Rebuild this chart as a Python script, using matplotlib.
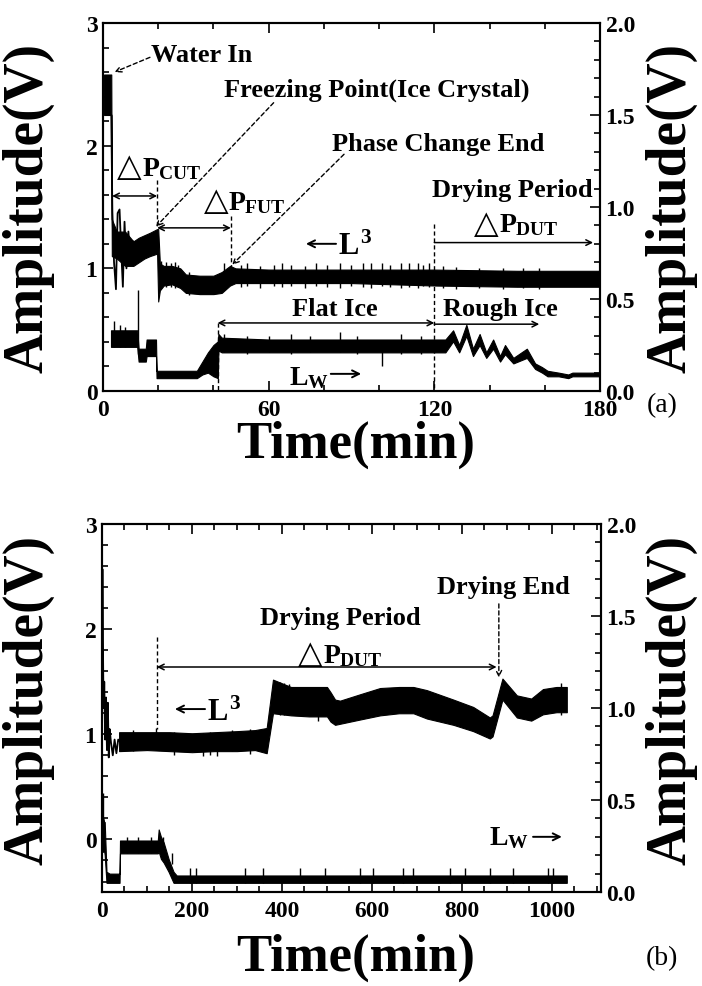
import matplotlib.pyplot as plt
from matplotlib.ticker import MultipleLocator, FormatStrFormatter

plt.rcParams['font.family'] = ['Liberation Serif', 'DejaVu Serif', 'DejaVu Sans']
plt.rcParams['font.weight'] = 'bold'
plt.rcParams['mathtext.fontset'] = 'custom'
plt.rcParams['mathtext.rm'] = 'Liberation Serif:bold'
plt.rcParams['mathtext.it'] = 'Liberation Serif:bold'
plt.rcParams['mathtext.bf'] = 'Liberation Serif:bold'

# ---- panel (a): L3 trace, left axis (V) ----
a_l3_t = [0.4, 3.0, 3.2, 5.0, 8.0, 11.0, 13.0, 15.0, 17.0, 19.6, 20.0, 20.6, 22.0, 25.0, 28.0, 30.0, 35.0, 40.0, 43.0, 46.0,
          48.0, 60.0, 90.0, 120.0, 150.0, 180.0]
a_l3_lo = [2.25, 2.25, 1.10, 1.08, 1.02, 1.02, 1.05, 1.08, 1.10, 1.12, 0.73, 0.82, 0.86, 0.87, 0.84, 0.80, 0.79, 0.79, 0.80, 0.86,
           0.88, 0.88, 0.88, 0.86, 0.85, 0.85]
a_l3_hi = [2.58, 2.58, 1.40, 1.30, 1.30, 1.22, 1.25, 1.27, 1.29, 1.32, 1.32, 1.04, 1.02, 1.02, 1.00, 0.95, 0.94, 0.94, 0.97, 1.02,
           1.00, 0.99, 0.99, 0.99, 0.98, 0.98]
a_l3_osc_t = [3.0, 3.4, 4.0, 4.7, 5.3, 6.0, 6.6, 7.2, 7.8, 8.5, 9.2, 10.0, 10.8]
a_l3_osc_v = [2.25, 1.46, 1.05, 0.83, 1.45, 1.48, 1.15, 0.85, 1.38, 1.00, 1.30, 1.05, 1.22]
a_l3_spk_t = [21, 23, 24.5, 26, 27, 31, 44, 50, 52, 57, 62, 65, 68, 73, 77, 81, 86, 90, 94, 97, 101, 104, 108, 111, 114,
              116, 118, 123, 128, 136, 145, 152, 158]
a_l3_spk_lo = [0.84, 0.85, 0.85, 0.84, 0.85, 0.78, 0.84, 0.85, 0.86, 0.84, 0.86, 0.85, 0.86, 0.84, 0.86, 0.85, 0.84, 0.86, 0.85,
               0.84, 0.86, 0.85, 0.84, 0.85, 0.84, 0.86, 0.85, 0.84, 0.83, 0.84, 0.83, 0.84, 0.83]
a_l3_spk_hi = [1.06, 1.05, 1.04, 1.05, 1.03, 0.97, 1.04, 1.03, 1.04, 1.02, 1.03, 1.04, 1.03, 1.02, 1.04, 1.03, 1.04, 1.03, 1.04,
               1.04, 1.04, 1.03, 1.04, 1.04, 1.04, 1.03, 1.04, 1.02, 1.01, 1.00, 1.00, 1.00, 1.00]

# ---- panel (a): Lw trace, right axis (V) ----
a_lw_t = [2.9, 12.4, 12.9, 15.5, 15.8, 19.2, 19.4, 25.0, 30.0, 34.0, 36.0, 38.0, 40.0, 41.6, 41.8, 43.0, 60.0, 90.0, 110.0,
          122.0, 124.0, 126.8, 129.0, 131.6, 134.0, 136.4, 138.8, 141.3, 143.8, 145.6, 148.6, 153.5, 156.5, 159.0, 161.0,
          165.0, 168.5, 170.0, 180.0]
a_lw_lo = [0.24, 0.24, 0.16, 0.16, 0.19, 0.19, 0.07, 0.07, 0.07, 0.07, 0.09, 0.10, 0.08, 0.07, 0.22, 0.21, 0.21, 0.21, 0.21,
           0.21, 0.21, 0.27, 0.21, 0.30, 0.19, 0.25, 0.18, 0.23, 0.16, 0.20, 0.15, 0.18, 0.12, 0.10, 0.08,
           0.08, 0.07, 0.08, 0.08]
a_lw_hi = [0.33, 0.33, 0.23, 0.23, 0.28, 0.28, 0.11, 0.11, 0.11, 0.11, 0.16, 0.21, 0.25, 0.27, 0.31, 0.29, 0.28, 0.28, 0.28,
           0.28, 0.28, 0.33, 0.25, 0.36, 0.23, 0.31, 0.21, 0.28, 0.19, 0.25, 0.18, 0.23, 0.15, 0.13, 0.11,
           0.10, 0.09, 0.10, 0.10]
a_lw_spk_t = [4, 6, 8, 12.7, 44, 52, 60, 68, 75, 86, 92, 101, 108, 115]
a_lw_spk_lo = [0.24, 0.24, 0.24, 0.20, 0.21, 0.20, 0.21, 0.20, 0.21, 0.21, 0.20, 0.135, 0.20, 0.20]
a_lw_spk_hi = [0.38, 0.36, 0.35, 0.55, 0.31, 0.30, 0.30, 0.31, 0.30, 0.32, 0.30, 0.28, 0.31, 0.30]

# ---- panel (b): L3 trace, left axis (V) ----
b_l3_osc_t = [0, 1, 2, 3, 4, 5, 7, 9, 11, 13, 15, 17, 20, 24, 28, 32, 36, 40]
b_l3_osc_v = [1.30, 2.57, 1.90, 1.45, 1.25, 1.50, 0.95, 1.35, 0.85, 1.30, 0.78, 1.05, 0.92, 0.80, 0.95, 0.82, 0.95, 0.93]
b_l3_t = [38, 100, 150, 200, 250, 300, 340, 366, 380, 420, 460, 500, 508, 518, 529, 573, 618, 660, 692, 722,
          781, 825, 862, 868, 890, 922, 954, 980, 1010, 1033]
b_l3_lo = [0.84, 0.85, 0.84, 0.83, 0.84, 0.84, 0.85, 0.82, 1.20, 1.18, 1.17, 1.17, 1.12, 1.09, 1.10, 1.14, 1.18, 1.20, 1.20, 1.15,
           1.09, 1.03, 0.96, 0.98, 1.33, 1.16, 1.13, 1.19, 1.21, 1.21]
b_l3_hi = [1.02, 1.02, 1.02, 1.01, 1.02, 1.03, 1.04, 1.06, 1.52, 1.45, 1.45, 1.45, 1.40, 1.33, 1.32, 1.38, 1.44, 1.45, 1.45, 1.42,
           1.33, 1.26, 1.16, 1.18, 1.53, 1.37, 1.34, 1.43, 1.45, 1.45]
b_l3_spk_t = [70, 120, 160, 225, 240, 255, 290, 330, 395, 405, 415, 480, 1020]
b_l3_spk_lo = [0.84, 0.85, 0.80, 0.79, 0.80, 0.79, 0.84, 0.81, 1.18, 1.18, 1.18, 1.13, 1.18]
b_l3_spk_hi = [1.04, 1.06, 1.02, 1.01, 1.02, 1.01, 1.04, 1.05, 1.50, 1.49, 1.48, 1.45, 1.49]

# ---- panel (b): Lw trace, right axis (V) ----
b_lw_t = [0, 3, 5, 6, 10, 17, 26, 39, 40, 60, 100, 124, 126, 131, 137, 148, 159, 166, 300, 600, 900, 1033]
b_lw_lo = [0.22, 0.22, 0.22, 0.20, 0.05, 0.05, 0.05, 0.05, 0.21, 0.21, 0.21, 0.21, 0.22, 0.18, 0.16, 0.11, 0.05, 0.05,
           0.05, 0.05, 0.05, 0.05]
b_lw_hi = [0.38, 0.40, 0.38, 0.38, 0.11, 0.10, 0.10, 0.10, 0.28, 0.28, 0.28, 0.28, 0.34, 0.30, 0.27, 0.18, 0.11, 0.09,
           0.09, 0.09, 0.09, 0.09]
b_lw_spk_t = [3, 55, 80, 110, 135, 155, 196, 210, 318, 358, 440, 496, 573, 603, 669, 692, 773, 807, 862, 914, 992, 1003]
b_lw_spk_lo = [0.22, 0.21, 0.21, 0.21, 0.21, 0.15, 0.05, 0.05, 0.05, 0.05, 0.05, 0.05, 0.05, 0.05, 0.05, 0.05, 0.05, 0.05,
               0.05, 0.05, 0.05, 0.05]
b_lw_spk_hi = [0.54, 0.30, 0.30, 0.30, 0.30, 0.21, 0.13, 0.13, 0.13, 0.13, 0.13, 0.13, 0.13, 0.13, 0.13, 0.13, 0.13, 0.13,
               0.13, 0.13, 0.13, 0.13]

fig = plt.figure(figsize=(7.02, 9.87), dpi=100)
ax_a = fig.add_axes([0.1467, 0.6028, 0.708, 0.3729])
ax_b = fig.add_axes([0.1453, 0.0952, 0.7108, 0.3729])


def style(ax, ax2, xmax, xmaj, xmin, ylo):
    ax.set_xlim(0, xmax)
    ax.set_ylim(ylo, 3)
    ax2.set_ylim(0, 2)
    ax.xaxis.set_major_locator(MultipleLocator(xmaj))
    ax.xaxis.set_minor_locator(MultipleLocator(xmin))
    ax.yaxis.set_major_locator(MultipleLocator(1))
    ax.yaxis.set_minor_locator(MultipleLocator(0.2))
    ax2.yaxis.set_major_locator(MultipleLocator(0.5))
    ax2.yaxis.set_minor_locator(MultipleLocator(0.1))
    ax2.yaxis.set_major_formatter(FormatStrFormatter('%.1f'))
    ax.tick_params(which='both', direction='in', top=True, right=False, labelsize=17, width=1.2, pad=4)
    ax.tick_params(axis='x', pad=6)
    ax.tick_params(which='major', length=7)
    ax.tick_params(which='minor', length=4)
    ax2.tick_params(which='both', direction='in', right=True, left=False, labelsize=17, width=1.2, pad=4)
    ax2.tick_params(which='major', length=7)
    ax2.tick_params(which='minor', length=4)
    for sp in ax.spines.values():
        sp.set_linewidth(1.5)
    for sp in ax2.spines.values():
        sp.set_linewidth(1.5)


def dash_v(ax, x, y0, y1):
    ax.plot([x, x], [y0, y1], color='k', lw=1, ls=(0, (3, 2)))


def harrow(ax, x0, x1, y, style_='<->'):
    ax.annotate('', xy=(x1, y), xytext=(x0, y),
                arrowprops=dict(arrowstyle=style_, color='k', lw=1.1, shrinkA=0, shrinkB=0))


def text_arrow(ax, x0, x1, y):
    # thin typographic-style arrow pointing from x0 to x1
    ax.annotate('', xy=(x1, y), xytext=(x0, y),
                arrowprops=dict(arrowstyle='->,head_length=0.5,head_width=0.25', color='k', lw=1.4,
                                shrinkA=0, shrinkB=0))


def dash_arrow(ax, xt, yt, xh, yh):
    ax.annotate('', xy=(xh, yh), xytext=(xt, yt),
                arrowprops=dict(arrowstyle='->', color='k', lw=1, ls=(0, (3, 2)), shrinkA=0, shrinkB=0))


def delta_label(ax, x, y, sub):
    # open triangle from DejaVu, then P with subscript right after it
    ax.text(x, y, '△', family='DejaVu Sans', fontweight='normal', fontsize=23, ha='left', va='baseline')
    ax.annotate('$P_{%s}$' % sub, xy=(x, y), xytext=(18, 0), textcoords='offset points',
                fontsize=20, ha='left', va='baseline')


# ----- panel (a) -----
ax2_a = ax_a.twinx()
style(ax_a, ax2_a, 180, 60, 20, 0)
ax_a.fill_between(a_l3_t, a_l3_lo, a_l3_hi, color='k', lw=0.8)
ax_a.plot(a_l3_osc_t, a_l3_osc_v, color='k', lw=1.3)
ax_a.vlines(a_l3_spk_t, a_l3_spk_lo, a_l3_spk_hi, color='k', lw=1)
ax2_a.fill_between(a_lw_t, a_lw_lo, a_lw_hi, color='k', lw=0.8)
ax2_a.vlines(a_lw_spk_t, a_lw_spk_lo, a_lw_spk_hi, color='k', lw=1)

fs = 19
ax_a.text(17.5, 2.74, 'Water In', fontsize=fs, ha='left', va='center')
dash_arrow(ax_a, 17, 2.72, 4.2, 2.60)
ax_a.text(44, 2.46, 'Freezing Point(Ice Crystal)', fontsize=fs, ha='left', va='center')
dash_arrow(ax_a, 61.8, 2.35, 19.2, 1.34)
ax_a.text(83, 2.02, 'Phase Change End', fontsize=fs, ha='left', va='center')
dash_arrow(ax_a, 87.3, 1.93, 46.8, 1.03)
delta_label(ax_a, 5.1, 1.76, 'CUT')
harrow(ax_a, 3.3, 19.6, 1.59)
dash_v(ax_a, 19.6, 1.72, 1.34)
delta_label(ax_a, 36.4, 1.48, 'FUT')
harrow(ax_a, 19.6, 46.3, 1.33)
dash_v(ax_a, 46.3, 1.43, 0.98)
ax_a.text(148.4, 1.64, 'Drying Period', fontsize=fs, ha='center', va='center')
delta_label(ax_a, 134.5, 1.30, 'DUT')
harrow(ax_a, 120, 177.5, 1.21, '->')
dash_v(ax_a, 120, 1.36, 0)
text_arrow(ax_a, 84.4, 73.5, 1.20)
ax_a.text(85.1, 1.12, '$L^{3}$', fontsize=fs + 3, ha='left', va='baseline')
ax_a.text(84, 0.67, 'Flat Ice', fontsize=fs, ha='center', va='center')
harrow(ax_a, 41.5, 120, 0.555)
dash_v(ax_a, 41.5, 0.555, 0)
ax_a.text(144, 0.67, 'Rough Ice', fontsize=fs, ha='center', va='center')
harrow(ax_a, 120, 158, 0.545, '->')
ax_a.text(67.3, 0.06, '$L_{W}$', fontsize=fs + 1, ha='left', va='baseline')
text_arrow(ax_a, 82.5, 93.5, 0.14)

# ----- panel (b) -----
ax2_b = ax_b.twinx()
style(ax_b, ax2_b, 1109, 200, 50, -0.5)
ax_b.fill_between(b_l3_t, b_l3_lo, b_l3_hi, color='k', lw=0.8)
ax_b.plot(b_l3_osc_t, b_l3_osc_v, color='k', lw=1.3)
ax_b.vlines(b_l3_spk_t, b_l3_spk_lo, b_l3_spk_hi, color='k', lw=1)
ax2_b.fill_between(b_lw_t, b_lw_lo, b_lw_hi, color='k', lw=0.8)
ax2_b.vlines(b_lw_spk_t, b_lw_spk_lo, b_lw_spk_hi, color='k', lw=1)

ax_b.text(529, 2.11, 'Drying Period', fontsize=fs, ha='center', va='center')
delta_label(ax_b, 435.6, 1.69, 'DUT')
harrow(ax_b, 122, 877, 1.64)
dash_v(ax_b, 122, 1.93, 1.05)
ax_b.text(892, 2.41, 'Drying End', fontsize=fs, ha='center', va='center')
dash_arrow(ax_b, 882, 2.24, 882, 1.54)
text_arrow(ax_b, 229, 162, 1.24)
ax_b.text(233, 1.14, '$L^{3}$', fontsize=fs + 3, ha='left', va='baseline')
ax2_b.text(860, 0.26, '$L_{W}$', fontsize=fs + 1, ha='left', va='baseline')
text_arrow(ax2_b, 958, 1022, 0.30)

# axis titles
for yc in (0.789, 0.291):
    fig.text(0.040, yc, 'Amplitude(V)', fontsize=40, rotation=90, ha='center', va='center')
    fig.text(0.957, yc, 'Amplitude(V)', fontsize=40, rotation=90, ha='center', va='center')
fig.text(0.506, 0.549, 'Time(min)', fontsize=38, ha='center', va='center')
fig.text(0.506, 0.030, 'Time(min)', fontsize=38, ha='center', va='center')
fig.text(0.943, 0.589, '(a)', fontsize=20, fontweight='normal', ha='center', va='center')
fig.text(0.943, 0.029, '(b)', fontsize=20, fontweight='normal', ha='center', va='center')

fig.savefig('out.png', dpi=100)
